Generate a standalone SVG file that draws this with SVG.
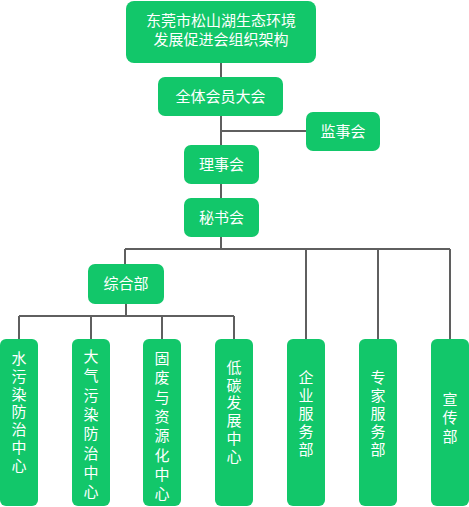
<svg xmlns="http://www.w3.org/2000/svg" width="469" height="507" viewBox="0 0 469 507">
<style>
.b{fill:#12c76a;}
.t{fill:#fff;font-family:"Liberation Sans","Noto Sans CJK SC",sans-serif;font-size:15px;text-anchor:middle;}
.c{fill:none;stroke:#5f5f5f;stroke-width:2;}
</style>
<rect width="469" height="507" fill="#fff"/>
<g id="connectors">
<path class="c" d="M221 63V198M221 131H306M221 237V249M125 249H450M125 249V264M306 249V339M378 249V339M450 249V339M126 304V316M19 316H234M19 316V339M91 316V339M162 316V339M234 316V339"/>
</g>
<g id="root"><rect class="b" x="126" y="1" width="190" height="62" rx="8"/><text class="t" x="221" y="26">东莞市松山湖生态环境</text><text class="t" x="221" y="45">发展促进会组织架构</text></g>
<g id="assembly"><rect class="b" x="158" y="77" width="125" height="39" rx="7"/><text class="t" x="220.5" y="102">全体会员大会</text></g>
<g id="supervisors"><rect class="b" x="306" y="112" width="74" height="39" rx="7"/><text class="t" x="343" y="137">监事会</text></g>
<g id="council"><rect class="b" x="184" y="145" width="75" height="39" rx="7"/><text class="t" x="221.5" y="170">理事会</text></g>
<g id="secretariat"><rect class="b" x="184" y="198" width="75" height="39" rx="7"/><text class="t" x="221.5" y="223">秘书会</text></g>
<g id="general"><rect class="b" x="88" y="264" width="76" height="40" rx="7"/><text class="t" x="126" y="289">综合部</text></g>
<g id="water"><rect class="b" x="0" y="339" width="38" height="167" rx="6"/>
<text class="t"><tspan x="19" y="364">水</tspan><tspan x="19" dy="17.8">污</tspan><tspan x="19" dy="17.8">染</tspan><tspan x="19" dy="17.8">防</tspan><tspan x="19" dy="17.8">治</tspan><tspan x="19" dy="17.8">中</tspan><tspan x="19" dy="17.8">心</tspan></text></g>
<g id="air"><rect class="b" x="72" y="339" width="38" height="167" rx="6"/>
<text class="t"><tspan x="91" y="362">大</tspan><tspan x="91" dy="19.3">气</tspan><tspan x="91" dy="19.3">污</tspan><tspan x="91" dy="19.3">染</tspan><tspan x="91" dy="19.3">防</tspan><tspan x="91" dy="19.3">治</tspan><tspan x="91" dy="19.3">中</tspan><tspan x="91" dy="19.3">心</tspan></text></g>
<g id="solid"><rect class="b" x="143" y="339" width="38" height="167" rx="6"/>
<text class="t"><tspan x="162" y="364">固</tspan><tspan x="162" dy="19.3">废</tspan><tspan x="162" dy="19.3">与</tspan><tspan x="162" dy="19.3">资</tspan><tspan x="162" dy="19.3">源</tspan><tspan x="162" dy="19.3">化</tspan><tspan x="162" dy="19.3">中</tspan><tspan x="162" dy="19.3">心</tspan></text></g>
<g id="lowcarbon"><rect class="b" x="215" y="339" width="38" height="167" rx="6"/>
<text class="t"><tspan x="234" y="373">低</tspan><tspan x="234" dy="17.7">碳</tspan><tspan x="234" dy="17.7">发</tspan><tspan x="234" dy="17.7">展</tspan><tspan x="234" dy="17.7">中</tspan><tspan x="234" dy="17.7">心</tspan></text></g>
<g id="enterprise"><rect class="b" x="287" y="339" width="38" height="167" rx="6"/>
<text class="t"><tspan x="306" y="383">企</tspan><tspan x="306" dy="18">业</tspan><tspan x="306" dy="18">服</tspan><tspan x="306" dy="18">务</tspan><tspan x="306" dy="18">部</tspan></text></g>
<g id="expert"><rect class="b" x="359" y="339" width="38" height="167" rx="6"/>
<text class="t"><tspan x="378" y="383">专</tspan><tspan x="378" dy="18">家</tspan><tspan x="378" dy="18">服</tspan><tspan x="378" dy="18">务</tspan><tspan x="378" dy="18">部</tspan></text></g>
<g id="publicity"><rect class="b" x="431" y="339" width="38" height="167" rx="6"/>
<text class="t"><tspan x="450" y="405">宣</tspan><tspan x="450" dy="18.3">传</tspan><tspan x="450" dy="18.3">部</tspan></text></g>
</svg>
